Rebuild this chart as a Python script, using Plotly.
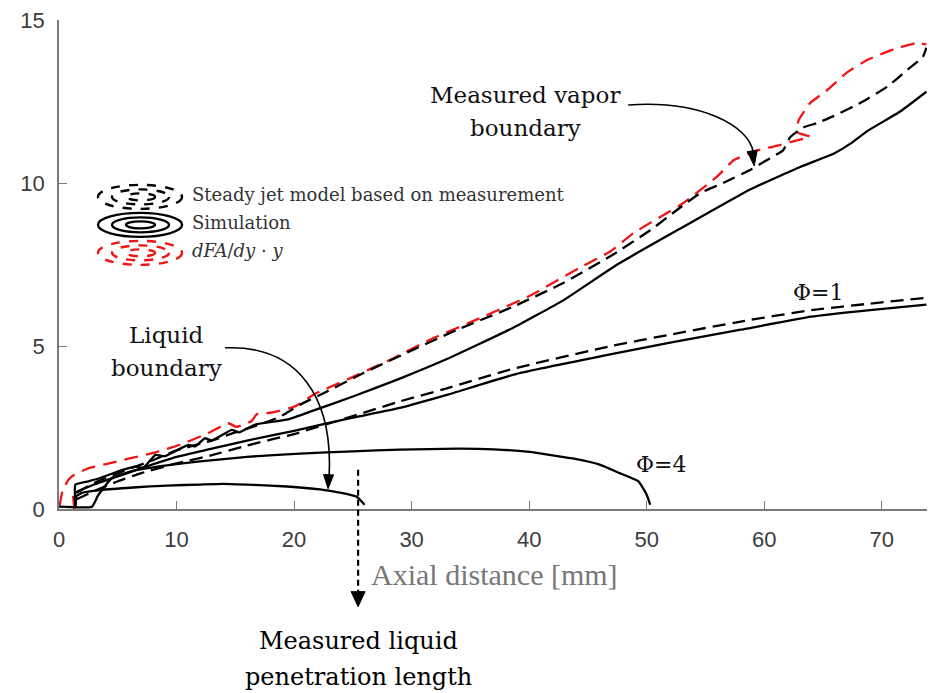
import plotly.graph_objects as go

# ---------------- data (axial distance in mm, radial extent in mm) ----------------
# dFA/dy * y  (measured vapor boundary, red dashed)
red_x = [1.3, 1.2, None, 0.05, 0.3, 0.8, 1.3, 2.5, 3.9, 6.0, 8.2, 10.3, 12.7, 14.4, 15.1, 16.4, 16.8,
         18.1, 20.1, 21.6, 24.5, 28.2, 31.6, 35.8, 40.1, 44.3, 46.9, 48.9, 53.1, 56.0, 57.4, 59.4,
         61.4, 62.7, 63.9, 62.8, 62.9, 63.9, 65.4, 67.0, 68.8, 71.0, 73.0, 73.8]
red_y = [0.0, 0.4, None, 0.1, 0.55, 0.9, 1.05, 1.25, 1.37, 1.55, 1.74, 1.97, 2.33, 2.63, 2.52, 2.7, 2.9,
         2.96, 3.15, 3.5, 3.97, 4.58, 5.2, 5.85, 6.55, 7.4, 7.9, 8.47, 9.38, 10.2, 10.7, 11.0,
         11.17, 11.3, 11.42, 11.55, 11.9, 12.45, 12.86, 13.38, 13.78, 14.1, 14.3, 14.25]

# steady jet model based on measurement, vapor boundary (black dashed)
jet_vap_x = [1.5, 3.0, 5.0, 8.0, 10.0, 13.0, 15.0, 17.0, 18.8, 20.5, 22.5, 25.9, 30.1, 33.9, 38.6,
             42.9, 46.9, 50.3, 52.6, 54.6, 56.5, 58.8, 60.2, 61.6, 62.2, 63.3, 64.5, 65.9, 68.2,
             70.5, 72.2, 73.5, 73.8]
jet_vap_y = [0.5, 0.8, 1.1, 1.5, 1.8, 2.1, 2.35, 2.58, 2.83, 3.2, 3.55, 4.17, 4.88, 5.5, 6.2,
             6.93, 7.75, 8.55, 9.18, 9.7, 10.0, 10.4, 10.7, 11.0, 11.4, 11.7, 11.84, 12.05, 12.46,
             12.96, 13.48, 13.87, 14.15]

# simulation, vapor boundary (black solid)
sim_vap_x = [1.4, 1.4, 2.5, 3.5, 5.4, 6.5, 7.2, 8.2, 9.0, 11.0, 11.6, 12.4, 13.0, 14.7, 15.3, 16.7,
             19.5, 21.5, 25.0, 29.0, 33.0, 38.6, 42.9, 47.5, 53.1, 58.8, 63.1, 65.9, 67.3, 68.8,
             71.6, 73.8]
sim_vap_y = [0.1, 0.75, 0.85, 0.95, 1.2, 1.3, 1.27, 1.66, 1.62, 1.97, 1.92, 2.17, 2.1, 2.43, 2.35, 2.59,
             2.75, 3.0, 3.45, 4.0, 4.6, 5.55, 6.4, 7.5, 8.65, 9.8, 10.5, 10.9, 11.2, 11.6,
             12.2, 12.8]

# steady jet model, stoichiometric contour phi = 1 (black dashed)
jet_phi1_x = [1.5, 3.0, 5.0, 7.0, 10.0, 13.0, 16.0, 20.0, 25.0, 29.0, 33.0, 38.6, 47.0, 52.0, 58.0,
              64.0, 69.0, 73.8]
jet_phi1_y = [0.3, 0.55, 0.85, 1.1, 1.4, 1.65, 1.95, 2.3, 2.85, 3.3, 3.7, 4.3, 5.0, 5.35, 5.75,
              6.1, 6.3, 6.48]

# simulation, phi = 1 (black solid)
sim_phi1_x = [1.4, 1.4, 3.0, 5.0, 7.0, 10.0, 13.0, 16.0, 20.0, 25.0, 29.0, 33.0, 39.0, 47.0, 52.0,
              58.0, 64.0, 69.0, 73.8]
sim_phi1_y = [0.1, 0.5, 0.75, 1.0, 1.25, 1.6, 1.85, 2.1, 2.4, 2.8, 3.1, 3.5, 4.15, 4.75, 5.1,
              5.5, 5.9, 6.1, 6.27]

# simulation, phi = 4 (black solid)
sim_phi4_x = [0.0, 2.8, 3.3, 4.5, 6.3, 9.0, 12.0, 16.0, 20.5, 25.0, 29.0, 34.0, 37.0, 40.0, 43.7,
              46.0, 47.7, 49.3, 50.0, 50.3]
sim_phi4_y = [0.07, 0.07, 0.4, 0.95, 1.17, 1.33, 1.46, 1.6, 1.7, 1.77, 1.82, 1.85, 1.83, 1.75, 1.55,
              1.36, 1.1, 0.85, 0.44, 0.13]

# simulation, liquid boundary (black solid)
liq_x = [1.4, 1.5, 2.0, 3.5, 6.3, 9.2, 12.0, 14.0, 16.5, 19.4, 22.2, 23.9, 25.3, 26.0]
liq_y = [0.1, 0.4, 0.5, 0.58, 0.66, 0.72, 0.75, 0.77, 0.74, 0.69, 0.6, 0.5, 0.38, 0.13]

x_ticks = [0, 10, 20, 30, 40, 50, 60, 70]
y_ticks = [0, 5, 10, 15]
x_range = [0, 73.85]
y_range = [0, 15]

legend_labels = ["Steady jet model based on measurement", "Simulation", "<i>dFA</i>/<i>dy</i> · <i>y</i>"]

# ---------------- layout geometry (pixels) ----------------
W, H = 930, 693
PL, PR, PT, PB = 59, 926.7, 20, 509.3   # plot area edges


def fx(px):
    return (px - PL) / (PR - PL)


def fy(py):
    return (PB - py) / (PB - PT)


RED = "#f01414"
BLACK = "#000000"
LW = 2.3

fig = go.Figure()

series = [
    (red_x, red_y, RED, "14px,8px"),
    (jet_vap_x, jet_vap_y, BLACK, "13px,7px"),
    (sim_vap_x, sim_vap_y, BLACK, "solid"),
    (jet_phi1_x, jet_phi1_y, BLACK, "13px,7px"),
    (sim_phi1_x, sim_phi1_y, BLACK, "solid"),
    (sim_phi4_x, sim_phi4_y, BLACK, "solid"),
    (liq_x, liq_y, BLACK, "solid"),
]
for xs, ys, col, dash in series:
    fig.add_trace(go.Scatter(x=xs, y=ys, mode="lines", showlegend=False, connectgaps=False,
                             line=dict(color=col, width=LW, dash=dash, shape="spline", smoothing=0.4),
                             hoverinfo="skip"))

shapes = []
annotations = []

SERIF = "DejaVu Serif"


def text(px, py, s, size, color="#111111", family=SERIF, xanchor="center"):
    annotations.append(dict(x=fx(px), y=fy(py), xref="paper", yref="paper", text=s, showarrow=False,
                            xanchor=xanchor, yanchor="middle",
                            font=dict(family=family, size=size, color=color)))


def arrow_head(tip, base, half=5):
    tx, ty = tip
    bx, by = base
    dx, dy = tx - bx, ty - by
    n = (dx * dx + dy * dy) ** 0.5
    nx, ny = -dy / n * half, dx / n * half
    p = [(tx, ty), (bx + nx, by + ny), (bx - nx, by - ny)]
    path = "M {} {} L {} {} L {} {} Z".format(*[v for pt in p for v in (fx(pt[0]), fy(pt[1]))])
    shapes.append(dict(type="path", xref="paper", yref="paper", path=path,
                       fillcolor=BLACK, line=dict(color=BLACK, width=1)))


def curve(points, width=1.6, dash="solid"):
    (x0, y0), (x1, y1), (x2, y2), (x3, y3) = points
    path = "M {} {} C {} {}, {} {}, {} {}".format(fx(x0), fy(y0), fx(x1), fy(y1), fx(x2), fy(y2),
                                               fx(x3), fy(y3))
    shapes.append(dict(type="path", xref="paper", yref="paper", path=path,
                       line=dict(color=BLACK, width=width, dash=dash)))


# legend: concentric ring icons plus labels
legend_rows = [(197, "dash", BLACK), (225, "solid", BLACK), (253, "dash", RED)]
for (cy, dash, col), lab in zip(legend_rows, legend_labels):
    for (xa, xb, hh) in [(98, 182, 12), (112, 169, 7.5), (126, 155, 3.5)]:
        shapes.append(dict(type="circle", xref="paper", yref="paper",
                           x0=fx(xa), x1=fx(xb), y0=fy(cy + hh), y1=fy(cy - hh),
                           line=dict(color=col, width=2.4, dash=dash if dash != "solid" else "solid")))
    text(190, cy - 2, lab, 18, color="#333333", xanchor="left")

# callouts
text(525, 95, "Measured vapor", 23)
text(525, 128, "boundary", 23)
curve([(628, 105), (700, 100), (748, 125), (753, 152)])
arrow_head((754, 166), (752, 151))

text(166, 335, "Liquid", 23)
text(166, 368, "boundary", 23)
curve([(225, 348), (300, 345), (333, 400), (329, 476)])
arrow_head((328, 489), (328.5, 475))

text(818, 293, "Φ=1", 22)
text(661, 465, "Φ=4", 22)

shapes.append(dict(type="line", xref="paper", yref="paper", x0=fx(358), x1=fx(358), y0=fy(470),
                   y1=fy(594), line=dict(color=BLACK, width=2.2, dash="6px,4px")))
arrow_head((358, 607), (358, 592), half=7)
text(358, 641, "Measured liquid", 24, color="#000000")
text(358, 677, "penetration length", 24, color="#000000")

# axis title
text(494, 575, "Axial distance [mm]", 30, color="#777777", family="Liberation Serif")

axis_common = dict(showgrid=False, zeroline=False, showline=True, linecolor="#7a7a7a", linewidth=1.5,
                   ticks="inside", ticklen=8, tickwidth=1.3, tickcolor="#7a7a7a",
                   tickfont=dict(family="Liberation Sans, Arial", size=22, color="#3c3c3c"))

fig.update_layout(
    width=W, height=H,
    margin=dict(l=PL, r=W - PR, t=PT, b=H - PB, pad=0),
    paper_bgcolor="white", plot_bgcolor="white",
    xaxis=dict(range=x_range, tickvals=x_ticks, ticklabelstandoff=10, **axis_common),
    yaxis=dict(range=y_range, tickvals=y_ticks, ticklabelstandoff=8, **axis_common),
    shapes=shapes, annotations=annotations, showlegend=False,
)

fig.write_html("out.html")
